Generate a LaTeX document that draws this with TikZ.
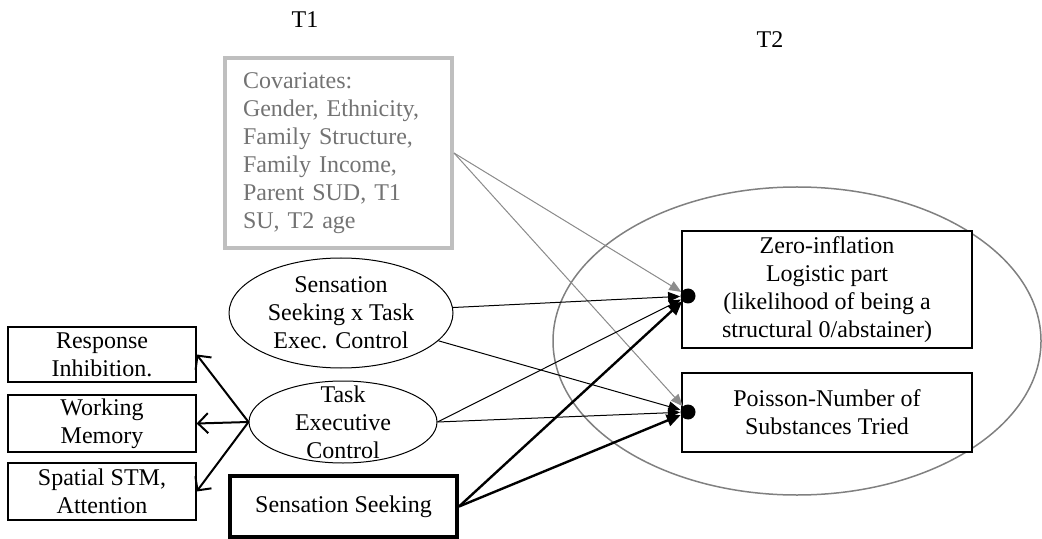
\documentclass[tikz,border=0pt]{standalone}
\usepackage{fontspec}
\setmainfont{Liberation Serif}
\usetikzlibrary{shapes.geometric,arrows.meta}
\begin{document}
\begin{tikzpicture}[x=0.5pt,y=-0.5pt, font=\fontsize{12}{14}\selectfont,
  box/.style={draw, line width=0.6pt, fill=white, align=center, inner sep=1pt},
  ell/.style={ellipse, draw, line width=0.5pt, fill=white, inner sep=0pt},
  thinarr/.style={-{Triangle[length=6pt,width=5pt]}, line width=0.5pt},
  grayarr/.style={-{Triangle[length=6pt,width=5pt]}, line width=0.5pt, draw=black!45, fill=black!45},
  thickarr/.style={-{Triangle[length=7pt,width=6pt]}, line width=1.2pt},
  leftarr/.style={-{Straight Barb[length=5pt,width=10pt]}, line width=1pt},
  dot/.style={circle, fill, inner sep=0pt, minimum size=7.5pt}]
\useasboundingbox (0,0) rectangle (1042,539);

% time labels
\node (t1) at (305,20) {T1};
\node (t2lab) at (770,40) {T2};

% T2 ellipse
\node[ellipse, draw=black!50, line width=0.75pt, minimum width=244pt, minimum height=154pt] (t2) at (797,341) {};

% outcome boxes
\node[box, minimum width=145pt, minimum height=58.5pt] (zero) at (827,289.5)
  {Zero-inflation\\Logistic part\\(likelihood of being a\\structural 0/abstainer)};
\node[box, minimum width=145pt, minimum height=39.5pt] (pois) at (827,412.5)
  {Poisson-Number of\\Substances Tried};
\node[dot] (zdot) at (688,296) {};
\node[dot] (pdot) at (688,412) {};

% covariates
\node[draw=black!25, line width=2pt, text=black!55, align=left, text width=95.5pt,
      inner xsep=9pt, minimum height=95pt] (cov) at (338.5,153)
  {Covariates:\\Gender, Ethnicity,\\Family Structure,\\Family Income,\\Parent SUD, T1\\SU, T2 age};

% predictors
\node[ell, minimum width=112pt, minimum height=55pt,
      label={[align=center]center:Sensation\\Seeking x Task\\Exec. Control}] (sxt) at (341,313) {};
\node[ell, minimum width=94pt, minimum height=41pt,
      label={[align=center]center:Task\\Executive\\Control}] (task) at (343,422) {};
\node[box, line width=2pt, minimum width=113.5pt, minimum height=30.5pt] (ss) at (343.5,506.5) {Sensation Seeking};

% indicator boxes
\node[box, minimum width=94pt, minimum height=27.5pt] (resp) at (102,354.5) {Response\\Inhibition.};
\node[box, minimum width=94pt, minimum height=28.5pt] (wm) at (102,423.5) {Working\\Memory};
\node[box, minimum width=94pt, minimum height=28.5pt] (stm) at (102,491.5) {Spatial STM,\\Attention};

% connectors
\draw[grayarr] (cov.east) -- (zdot);
\draw[grayarr] (cov.east) -- (pdot);
\draw[thinarr] (sxt) -- (zdot);
\draw[thinarr] (sxt) -- (pdot);
\draw[thinarr] (task.east) -- (zdot);
\draw[thinarr] (task.east) -- (pdot);
\draw[thickarr] (ss.east) -- (zdot);
\draw[thickarr] (ss.east) -- (pdot);

\draw[leftarr] (task.west) -- (resp.east);
\draw[leftarr] (task.west) -- (wm.east);
\draw[leftarr] (task.west) -- (stm.east);
\end{tikzpicture}
\end{document}
